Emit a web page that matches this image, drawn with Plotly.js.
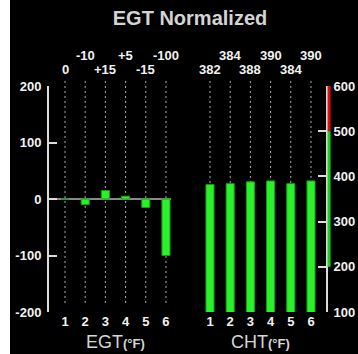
<!DOCTYPE html>
<html><head><meta charset="utf-8">
<script src="https://cdn.plot.ly/plotly-3.0.1.min.js"></script>
<style>body{margin:0;background:#fff;overflow:hidden;} #chart{position:absolute;left:10px;top:0;width:348px;height:354px;}</style>
</head><body><div id="chart"></div><script>
const cylinders = [1, 2, 3, 4, 5, 6];
const egtValues = [0, -10, 15, 5, -15, -100];
const egtLabels = ['0', '-10', '+15', '+5', '-15', '-100'];
const chtValues = [382, 384, 388, 390, 384, 390];
const chtLabels = ['382', '384', '388', '390', '384', '390'];
const egtTicks = [-200, -100, 0, 100, 200];
const egtTickText = ['-200', '-100', '0', '100', '200'];
const chtTicks = [100, 200, 300, 400, 500, 600];
const chtRedBand = [500, 600];
const chtGreenBand = [200, 500];

const barStyle = {color: '#2cf02c', line: {color: '#10a010', width: 1}};
const traces = [
  {type: 'bar', x: cylinders, y: egtValues, xaxis: 'x', yaxis: 'y', width: 0.4, marker: barStyle, hoverinfo: 'skip'},
  {type: 'bar', x: cylinders, y: chtValues, xaxis: 'x2', yaxis: 'y2', width: 0.4, marker: barStyle, hoverinfo: 'skip'}
];

const tickFont = {family: 'Liberation Sans, Arial, sans-serif', size: 13, color: '#f2f2f2', weight: 'bold'};
const shapes = [];
const annotations = [];
cylinders.forEach((c, i) => {
  shapes.push({type: 'line', xref: 'x', yref: 'paper', x0: c, x1: c, y0: 0.04, y1: 1.035, layer: 'below', line: {color: '#b0b0b0', width: 1, dash: '2px,3px'}});
  shapes.push({type: 'line', xref: 'x2', yref: 'paper', x0: c, x1: c, y0: 0.04, y1: 1.035, layer: 'below', line: {color: '#b0b0b0', width: 1, dash: '2px,3px'}});
  const yy = (i % 2 === 0) ? 1.071 : 1.137;
  annotations.push({xref: 'x', yref: 'paper', x: c, y: yy, text: egtLabels[i], showarrow: false, font: tickFont, yanchor: 'middle'});
  annotations.push({xref: 'x2', yref: 'paper', x: c, y: yy, text: chtLabels[i], showarrow: false, font: tickFont, yanchor: 'middle'});
});
shapes.push({type: 'line', xref: 'paper', yref: 'y2', x0: 1.011, x1: 1.011, y0: chtRedBand[0], y1: chtRedBand[1], line: {color: '#e01010', width: 3}});
shapes.push({type: 'line', xref: 'paper', yref: 'y2', x0: 1.011, x1: 1.011, y0: chtGreenBand[0], y1: chtGreenBand[1], line: {color: '#18d418', width: 3}});

const titleFont = {family: 'Liberation Sans, Arial, sans-serif', size: 18, color: '#d6d6d6'};
annotations.push({xref: 'x', yref: 'paper', x: 3.5, y: -0.133, text: "EGT<span style='font-size:13px;font-weight:bold'>(°F)</span>", showarrow: false, font: titleFont, yanchor: 'middle'});
annotations.push({xref: 'x2', yref: 'paper', x: 3.5, y: -0.133, text: "CHT<span style='font-size:13px;font-weight:bold'>(°F)</span>", showarrow: false, font: titleFont, yanchor: 'middle'});

const axisCommon = {showgrid: false, showline: true, linecolor: '#dcdcdc', linewidth: 2, ticks: 'inside', ticklen: 8, tickwidth: 2, tickcolor: '#dcdcdc', tickfont: tickFont, ticklabelstandoff: 3, fixedrange: true};
const layout = {
  width: 348, height: 354,
  margin: {l: 39, r: 32, t: 86, b: 42},
  paper_bgcolor: '#000', plot_bgcolor: 'rgba(0,0,0,0)',
  showlegend: false,
  title: {text: 'EGT Normalized', font: {family: 'Liberation Sans, Arial, sans-serif', size: 20, color: '#d4d4d4', weight: 'bold'}, xref: 'paper', x: 0.509, xanchor: 'center', yref: 'container', y: 0.949, yanchor: 'middle'},
  xaxis: {domain: [0, 0.4404], range: [0.208, 6.248], tickvals: cylinders, ticks: '', showgrid: false, zeroline: false, showline: false, tickfont: tickFont, anchor: 'y', fixedrange: true},
  xaxis2: {domain: [0.509, 1], range: [0.01, 6.743], tickvals: cylinders, ticks: '', showgrid: false, zeroline: false, showline: false, tickfont: tickFont, anchor: 'y2', fixedrange: true},
  yaxis: Object.assign({}, axisCommon, {domain: [0, 1], range: [-200, 200], tickvals: egtTicks, ticktext: egtTickText, anchor: 'x', zeroline: true, zerolinecolor: '#8a8a8a', zerolinewidth: 2}),
  yaxis2: Object.assign({}, axisCommon, {domain: [0, 1], range: [100, 600], tickvals: chtTicks, anchor: 'x2', side: 'right', zeroline: false}),
  shapes: shapes,
  annotations: annotations
};
Plotly.newPlot('chart', traces, layout, {displayModeBar: false, staticPlot: true});
</script></body></html>
